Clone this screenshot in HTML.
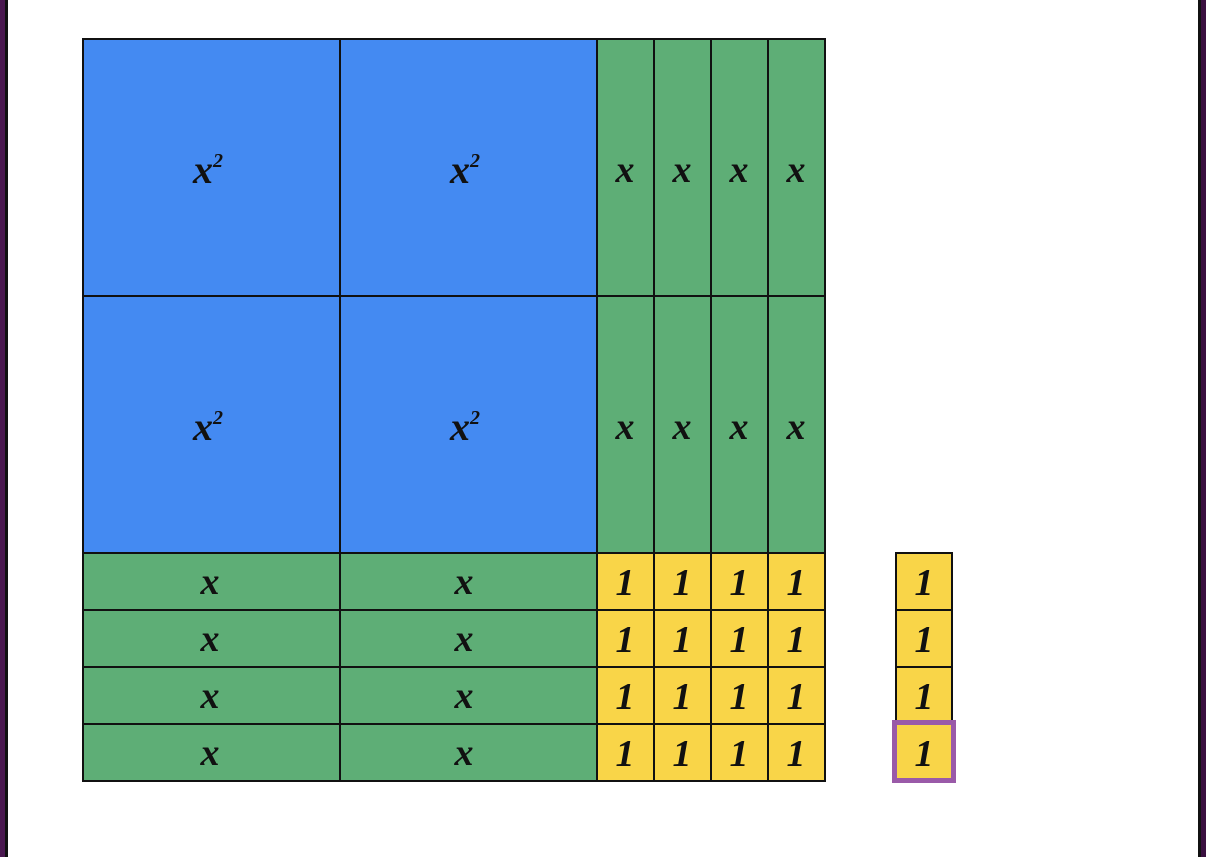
<!DOCTYPE html>
<html><head><style>
html,body{margin:0;padding:0;background:#fff;}
svg{display:block;}
text{font-family:"Liberation Serif",serif;font-style:italic;font-weight:bold;fill:#111;text-anchor:middle;}
</style></head><body>
<svg width="1206" height="857" xmlns="http://www.w3.org/2000/svg">
<rect x="0" y="0" width="1206" height="857" fill="#fff"/>
<rect x="0" y="0" width="5" height="857" fill="#4a1850"/>
<rect x="5" y="0" width="3" height="857" fill="#111"/>
<rect x="1198" y="0" width="3" height="857" fill="#111"/>
<rect x="1201" y="0" width="5" height="857" fill="#3a1040"/>
<g stroke="#111" stroke-width="2">
<rect x="83" y="39" width="257" height="257" fill="#448af2"/>
<rect x="340" y="39" width="257" height="257" fill="#448af2"/>
<rect x="83" y="296" width="257" height="257" fill="#448af2"/>
<rect x="340" y="296" width="257" height="257" fill="#448af2"/>
<rect x="597" y="39" width="57" height="257" fill="#5eae76"/>
<rect x="654" y="39" width="57" height="257" fill="#5eae76"/>
<rect x="711" y="39" width="57" height="257" fill="#5eae76"/>
<rect x="768" y="39" width="57" height="257" fill="#5eae76"/>
<rect x="597" y="296" width="57" height="257" fill="#5eae76"/>
<rect x="654" y="296" width="57" height="257" fill="#5eae76"/>
<rect x="711" y="296" width="57" height="257" fill="#5eae76"/>
<rect x="768" y="296" width="57" height="257" fill="#5eae76"/>
<rect x="83" y="553" width="257" height="57" fill="#5eae76"/>
<rect x="340" y="553" width="257" height="57" fill="#5eae76"/>
<rect x="83" y="610" width="257" height="57" fill="#5eae76"/>
<rect x="340" y="610" width="257" height="57" fill="#5eae76"/>
<rect x="83" y="667" width="257" height="57" fill="#5eae76"/>
<rect x="340" y="667" width="257" height="57" fill="#5eae76"/>
<rect x="83" y="724" width="257" height="57" fill="#5eae76"/>
<rect x="340" y="724" width="257" height="57" fill="#5eae76"/>
</g>
<g stroke="#111" stroke-width="2" fill="#f9d548">
<rect x="597" y="553" width="57" height="57"/><rect x="654" y="553" width="57" height="57"/><rect x="711" y="553" width="57" height="57"/><rect x="768" y="553" width="57" height="57"/>
<rect x="597" y="610" width="57" height="57"/><rect x="654" y="610" width="57" height="57"/><rect x="711" y="610" width="57" height="57"/><rect x="768" y="610" width="57" height="57"/>
<rect x="597" y="667" width="57" height="57"/><rect x="654" y="667" width="57" height="57"/><rect x="711" y="667" width="57" height="57"/><rect x="768" y="667" width="57" height="57"/>
<rect x="597" y="724" width="57" height="57"/><rect x="654" y="724" width="57" height="57"/><rect x="711" y="724" width="57" height="57"/><rect x="768" y="724" width="57" height="57"/>
<rect x="896" y="553" width="56" height="57"/><rect x="896" y="610" width="56" height="57"/><rect x="896" y="667" width="56" height="57"/><rect x="896" y="724" width="56" height="57"/>
</g>
<rect x="894.5" y="722.5" width="59" height="58" fill="none" stroke="#9a5aa8" stroke-width="5"/>
<g font-size="40">
<text x="208" y="183">x<tspan font-size="20" dy="-16">2</tspan></text>
<text x="465" y="183">x<tspan font-size="20" dy="-16">2</tspan></text>
<text x="208" y="440">x<tspan font-size="20" dy="-16">2</tspan></text>
<text x="465" y="440">x<tspan font-size="20" dy="-16">2</tspan></text>
</g>
<g font-size="38">
<text x="625" y="182">x</text><text x="682" y="182">x</text><text x="739" y="182">x</text><text x="796" y="182">x</text>
<text x="625" y="439">x</text><text x="682" y="439">x</text><text x="739" y="439">x</text><text x="796" y="439">x</text>
<text x="210" y="594">x</text><text x="464" y="594">x</text>
<text x="210" y="651">x</text><text x="464" y="651">x</text>
<text x="210" y="708">x</text><text x="464" y="708">x</text>
<text x="210" y="765">x</text><text x="464" y="765">x</text>
</g>
<g font-size="38">
<text x="625" y="595">1</text><text x="682" y="595">1</text><text x="739" y="595">1</text><text x="796" y="595">1</text>
<text x="625" y="652">1</text><text x="682" y="652">1</text><text x="739" y="652">1</text><text x="796" y="652">1</text>
<text x="625" y="709">1</text><text x="682" y="709">1</text><text x="739" y="709">1</text><text x="796" y="709">1</text>
<text x="625" y="766">1</text><text x="682" y="766">1</text><text x="739" y="766">1</text><text x="796" y="766">1</text>
<text x="924" y="595">1</text><text x="924" y="652">1</text><text x="924" y="709">1</text><text x="924" y="766">1</text>
</g>
</svg>
</body></html>
